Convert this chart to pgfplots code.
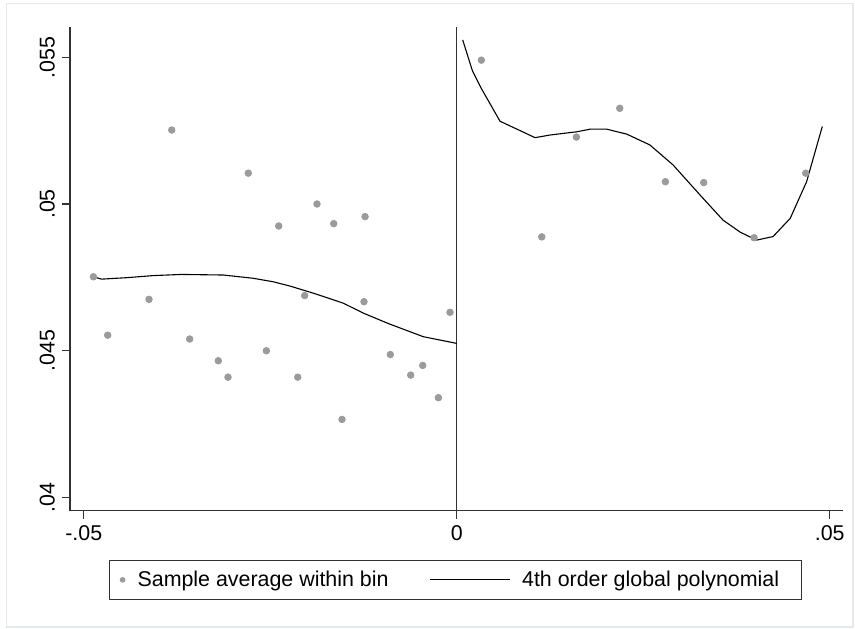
\documentclass[border=0pt]{standalone}
\usepackage{fontspec}
\setmainfont{Liberation Sans}
\usepackage{pgfplots}
\pgfplotsset{compat=1.18}

\definecolor{dotgray}{RGB}{155,155,155}
\definecolor{framegray}{RGB}{228,233,238}
\definecolor{axisgray}{RGB}{50,50,50}

\begin{document}
\begin{tikzpicture}
\path[use as bounding box] (-35pt,-58.65pt) rectangle (392.5pt,255.35pt);
\draw[framegray, line width=0.8pt] (-31.65pt,-58.15pt) rectangle (391.5pt,253.6pt);
\begin{axis}[
    at={(0,0)}, anchor=south west,
    scale only axis,
    width=386.5pt, height=241.85pt,
    xmin=-0.05184, xmax=0.05178,
    ymin=0.03955, ymax=0.05603,
    axis x line=bottom, axis y line=left,
    axis line style={-, axisgray, line width=0.6pt},
    tick align=outside,
    major tick length=4pt,
    tick style={axisgray, line width=0.6pt},
    xtick={-0.05,0,0.05}, xticklabels={-.05,0,.05},
    ytick={0.04,0.045,0.05,0.055}, yticklabels={.04,.045,.05,.055},
    scaled ticks=false,
    every tick label/.append style={font=\fontsize{10.7}{12.8}\selectfont},
    yticklabel style={rotate=90, anchor=south},
    legend columns=2,
    legend cell align=left,
    legend style={at={(0.05045,-0.1019)}, anchor=north west,
        draw=axisgray, line width=0.6pt, inner xsep=5pt, inner ysep=3pt,
        font=\fontsize{10.7}{12.8}\selectfont,
        /tikz/every odd column/.append style={column sep=1pt},
        /tikz/every even column/.append style={column sep=18.5pt}},
]
% reference line at the cutoff
\addplot[forget plot, color=axisgray, line width=0.6pt] coordinates {(0,0.03955) (0,0.05603)};

\addplot[only marks, mark=*, mark size=1.65pt, color=dotgray,
    legend image code/.code={\path[draw=none] (0pt,0pt) (6pt,0pt);
      \fill[dotgray] (1.5pt,0pt) circle (1.1pt);}]
coordinates {
(-0.0487,0.04752) (-0.04679,0.04553) (-0.04125,0.04675) (-0.0382,0.05252)
(-0.0358,0.0454) (-0.03196,0.04466) (-0.03066,0.0441) (-0.02794,0.05105)
(-0.02552,0.0450) (-0.02386,0.04925) (-0.02131,0.0441) (-0.02038,0.04688)
(-0.01873,0.0500) (-0.01649,0.04933) (-0.01538,0.04266) (-0.01243,0.04667)
(-0.01229,0.04957) (-0.0089,0.04487) (-0.00617,0.04417) (-0.00456,0.0445)
(-0.00246,0.0434) (-0.0009,0.04631)
(0.0033,0.0549) (0.0114,0.04888) (0.01604,0.05228) (0.02185,0.05326)
(0.02797,0.05076) (0.03311,0.05073) (0.03986,0.04885) (0.04678,0.05105)
};
\addlegendentry{Sample average within bin}

\addplot[black, line width=0.55pt,
    legend image code/.code={\path[draw=none] (0pt,0pt) (43pt,0pt);
      \draw[black, line width=0.55pt] (0pt,0pt) -- (40pt,0pt);}]
coordinates {
(-0.0487,0.04752) (-0.0476,0.04744) (-0.0442,0.04749) (-0.0407,0.04756)
(-0.0369,0.0476) (-0.0313,0.04758) (-0.0273,0.04747) (-0.0246,0.04735)
(-0.0223,0.0472) (-0.0192,0.04696) (-0.0152,0.04662) (-0.0125,0.04628)
(-0.0092,0.04593) (-0.0045,0.04548) (0,0.04525)
};
\addlegendentry{4th order global polynomial\kern4pt}

\addplot[forget plot, black, line width=0.55pt] coordinates {
(0.0008,0.05559) (0.0021,0.05454) (0.0032,0.05398) (0.0058,0.05282)
(0.0105,0.05226) (0.0125,0.05235) (0.0161,0.05246) (0.0179,0.05255)
(0.0201,0.05255) (0.0228,0.05238) (0.0259,0.05201) (0.0290,0.05133)
(0.0326,0.05031) (0.0357,0.04945) (0.0380,0.04904) (0.0402,0.04877)
(0.0424,0.04889) (0.0447,0.04951) (0.0469,0.05076) (0.0490,0.05264)
};
\end{axis}
\end{tikzpicture}
\end{document}
